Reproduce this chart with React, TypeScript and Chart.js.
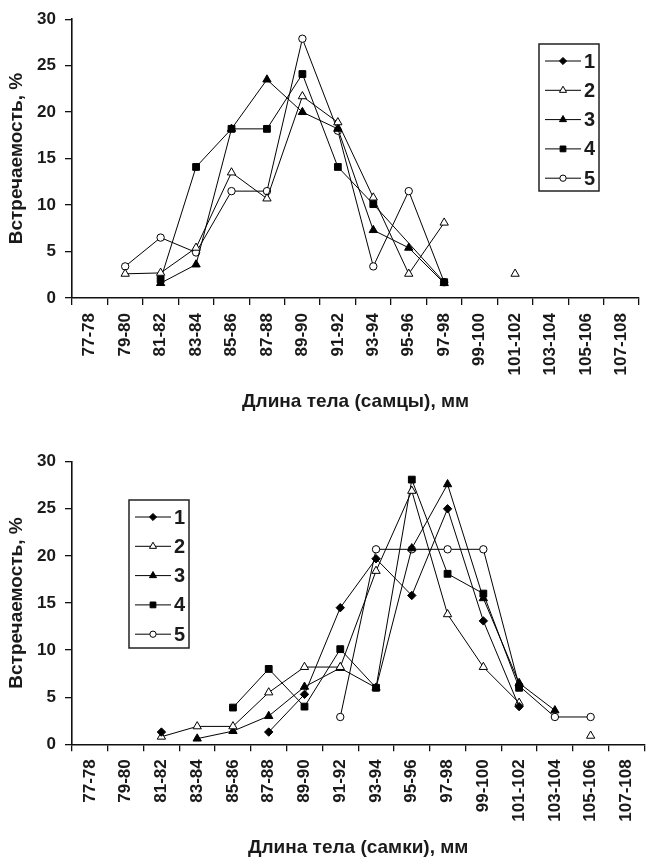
import { useEffect, useRef } from "react";
import { Chart, registerables } from "chart.js";

Chart.register(...registerables);

const categories = [
  "77-78", "79-80", "81-82", "83-84", "85-86", "87-88", "89-90", "91-92",
  "93-94", "95-96", "97-98", "99-100", "101-102", "103-104", "105-106", "107-108",
];
const seriesNames = ["1", "2", "3", "4", "5"];
const yTicks = [0, 5, 10, 15, 20, 25, 30];

// Males (самцы)
const males1: (number | null)[] = [null, null, null, null, null, null, null, null, null, null, null, null, null, null, null, null];
const males2: (number | null)[] = [null, 2.6, 2.7, 5.4, 13.5, 10.7, 21.7, 18.9, 10.8, 2.6, 8.1, null, 2.6, null, null, null];
const males3: (number | null)[] = [null, null, 1.6, 3.6, 18.2, 23.5, 20.0, 18.2, 7.3, 5.4, 1.6, null, null, null, null, null];
const males4: (number | null)[] = [null, null, 2.0, 14.1, 18.2, 18.2, 24.1, 14.1, 10.1, null, 1.7, null, null, null, null, null];
const males5: (number | null)[] = [null, 3.4, 6.5, 4.9, 11.5, 11.5, 27.9, 18.0, 3.4, 11.5, 1.7, null, null, null, null, null];

// Females (самки)
const females1: (number | null)[] = [null, null, 1.3, null, null, 1.3, 5.3, 14.5, 19.7, 15.8, 25.0, 13.1, 4.0, null, null, null];
const females2: (number | null)[] = [null, null, 0.8, 1.9, 1.9, 5.5, 8.2, 8.2, 18.4, 26.9, 13.8, 8.2, 4.4, null, 0.9, null];
const females3: (number | null)[] = [null, null, null, 0.6, 1.4, 3.0, 6.1, 8.1, 6.0, 20.8, 27.6, 15.5, 6.5, 3.6, null, null];
const females4: (number | null)[] = [null, null, null, null, 3.9, 8.0, 4.0, 10.1, 6.0, 28.1, 18.1, 16.0, 6.0, null, null, null];
const females5: (number | null)[] = [null, null, null, null, null, null, null, 2.9, 20.7, 20.7, 20.7, 20.7, 6.2, 2.9, 2.9, null];

const FONT = '"Liberation Sans", Arial, Helvetica, sans-serif';
const markerStyles = ["rectRot", "triangle", "triangle", "rect", "circle"];
const markerFills = ["#000", "#fff", "#000", "#000", "#fff"];
const markerRadii = [4.2, 4.8, 4.8, 4.8, 3.7];

function drawMarker(ctx: CanvasRenderingContext2D, style: string, x: number, y: number, r: number, fill: string) {
  ctx.beginPath();
  if (style === "rectRot") {
    ctx.moveTo(x, y - r);
    ctx.lineTo(x + r, y);
    ctx.lineTo(x, y + r);
    ctx.lineTo(x - r, y);
    ctx.closePath();
  } else if (style === "triangle") {
    ctx.moveTo(x, y - r);
    ctx.lineTo(x + r * 0.866, y + r * 0.5);
    ctx.lineTo(x - r * 0.866, y + r * 0.5);
    ctx.closePath();
  } else if (style === "rect") {
    const s = r * 0.7071;
    ctx.rect(x - s, y - s, 2 * s, 2 * s);
  } else {
    ctx.arc(x, y, r, 0, Math.PI * 2);
  }
  ctx.fillStyle = fill;
  ctx.fill();
  ctx.lineWidth = 1;
  ctx.strokeStyle = "#000";
  ctx.stroke();
}

const boxLegend = {
  id: "boxLegend",
  afterDatasetsDraw(chart: any, _args: any, opts: any) {
    if (!opts || opts.x === undefined) return;
    const ctx: CanvasRenderingContext2D = chart.ctx;
    const { x, y, w, h } = opts;
    ctx.save();
    ctx.fillStyle = "#fff";
    ctx.fillRect(x, y, w, h);
    ctx.lineWidth = 1.5;
    ctx.strokeStyle = "#222";
    ctx.strokeRect(x, y, w, h);
    chart.data.datasets.forEach((ds: any, i: number) => {
      const ly = y + 17 + i * 29.3;
      ctx.beginPath();
      ctx.moveTo(x + 6, ly);
      ctx.lineTo(x + 42, ly);
      ctx.lineWidth = 1;
      ctx.strokeStyle = "#000";
      ctx.stroke();
      drawMarker(ctx, markerStyles[i], x + 24, ly, markerRadii[i] * 0.85, markerFills[i]);
      ctx.fillStyle = "#1a1a1a";
      ctx.font = `bold 20px ${FONT}`;
      ctx.textBaseline = "middle";
      ctx.textAlign = "left";
      ctx.fillText(ds.label, x + 45, ly + 1);
    });
    ctx.restore();
  },
};

function makeDatasets(series: (number | null)[][], spans: boolean[]) {
  return series.map((data, i) => ({
    label: seriesNames[i],
    data,
    borderColor: "#000",
    borderWidth: 1,
    pointStyle: markerStyles[i],
    pointRadius: markerRadii[i],
    pointBackgroundColor: markerFills[i],
    pointBorderColor: "#000",
    pointBorderWidth: 1,
    spanGaps: spans[i],
    tension: 0,
  }));
}

function makeOptions(cfg: any) {
  const tickFont = { family: FONT, size: 17, weight: "bold" as const };
  const titleFont = { family: FONT, size: 19, weight: "bold" as const };
  return {
    animation: false,
    responsive: false,
    maintainAspectRatio: false,
    layout: { padding: { top: cfg.padTop, right: 0, bottom: 0, left: 0 } },
    plugins: {
      legend: { display: false },
      tooltip: { enabled: false },
      boxLegend: cfg.legend,
    },
    scales: {
      x: {
        type: "category",
        offset: true,
        grid: {
          display: true,
          drawOnChartArea: false,
          drawTicks: true,
          tickLength: 7,
          color: "#111",
          lineWidth: 1.3,
          offset: true,
        },
        border: { display: true, color: "#111", width: 1.6 },
        ticks: {
          autoSkip: false,
          minRotation: 90,
          maxRotation: 90,
          padding: 8,
          color: "#1a1a1a",
          font: tickFont,
        },
        title: {
          display: true,
          text: cfg.xTitle,
          color: "#1a1a1a",
          font: titleFont,
          padding: { top: 0, bottom: cfg.xTitlePad },
        },
        afterFit: (s: any) => {
          s.height = cfg.xHeight;
        },
      },
      y: {
        min: 0,
        max: 30,
        afterBuildTicks: (s: any) => {
          s.ticks = yTicks.map((v) => ({ value: v }));
        },
        grid: {
          display: true,
          drawOnChartArea: false,
          drawTicks: true,
          tickLength: 7,
          color: "#111",
          lineWidth: 1.3,
        },
        border: { display: true, color: "#111", width: 1.6 },
        ticks: {
          padding: 9,
          color: "#1a1a1a",
          font: tickFont,
        },
        title: {
          display: true,
          text: "Встречаемость, %",
          color: "#1a1a1a",
          font: titleFont,
          padding: { top: 5, bottom: 0 },
        },
        afterFit: (s: any) => {
          s.width = 72;
        },
      },
    },
  };
}

function LineChart(props: { width: number; height: number; top: number; series: (number | null)[][]; spans: boolean[]; cfg: any }) {
  const ref = useRef<HTMLCanvasElement | null>(null);
  useEffect(() => {
    if (!ref.current) return;
    const chart = new Chart(ref.current, {
      type: "line",
      data: { labels: categories, datasets: makeDatasets(props.series, props.spans) as any },
      options: makeOptions(props.cfg) as any,
      plugins: [boxLegend as any],
    });
    return () => chart.destroy();
  }, []);
  return (
    <canvas
      ref={ref}
      width={props.width}
      height={props.height}
      style={{ position: "absolute", left: 0, top: props.top, width: props.width, height: props.height, display: "block" }}
    />
  );
}

export default function App() {
  return (
    <div style={{ position: "fixed", left: 0, top: 0, width: 648, height: 860, overflow: "hidden", background: "#fff" }}>
      <LineChart
        width={650}
        height={430}
        top={0}
        series={[males1, males2, males3, males4, males5]}
        spans={[false, false, false, true, false]}
        cfg={{
          padTop: 14,
          xHeight: 132,
          xTitlePad: 16.6,
          xTitle: "Длина тела (самцы), мм",
          legend: { x: 539, y: 44, w: 60, h: 147 },
        }}
      />
      <LineChart
        width={655}
        height={430}
        top={430}
        series={[females1, females2, females3, females4, females5]}
        spans={[false, false, false, false, false]}
        cfg={{
          padTop: 31.7,
          xHeight: 115.7,
          xTitlePad: 0.6,
          xTitle: "Длина тела (самки), мм",
          legend: { x: 129, y: 70, w: 60, h: 148 },
        }}
      />
    </div>
  );
}
